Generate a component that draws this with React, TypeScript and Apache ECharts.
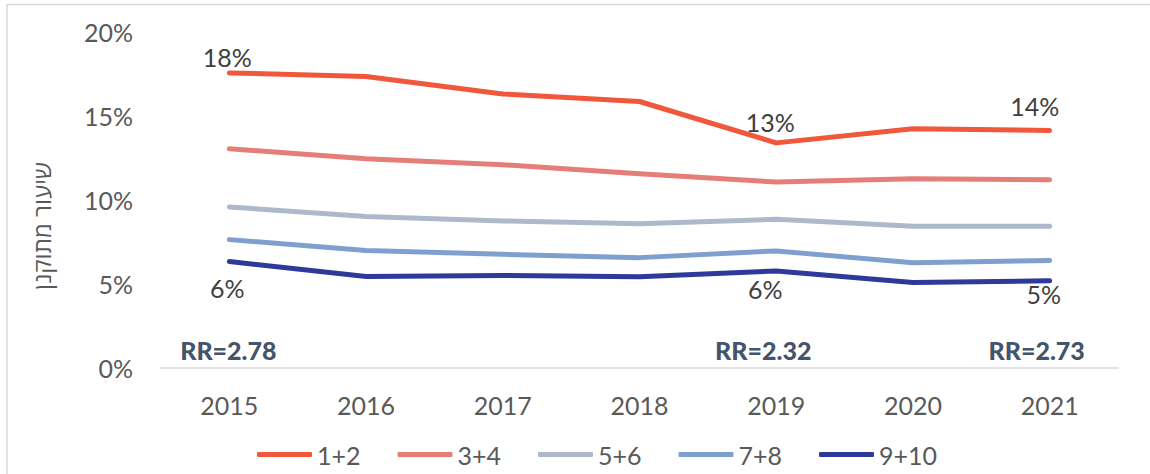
import React, { useEffect, useRef } from "react";
import * as echarts from "echarts";

const years = ["2015", "2016", "2017", "2018", "2019", "2020", "2021"];
const seriesNames = ["1+2", "3+4", "5+6", "7+8", "9+10"];
const s12 = [17.54, 17.32, 16.29, 15.84, 13.38, 14.22, 14.12];
const s34 = [13.03, 12.44, 12.08, 11.55, 11.05, 11.25, 11.19];
const s56 = [9.57, 9.01, 8.74, 8.58, 8.84, 8.42, 8.42];
const s78 = [7.63, 6.98, 6.76, 6.56, 6.96, 6.25, 6.39];
const s910 = [6.33, 5.44, 5.5, 5.42, 5.77, 5.08, 5.18];
const yTicks = [0, 5, 10, 15, 20];
const rrYears = ["2015", "2019", "2021"];
const rrTexts = ["RR=2.78", "RR=2.32", "RR=2.73"];
const rrLevel = 1.07;
const labelledIdx = [0, 4, 6];
const yTitle = "שיעור מתוקנן";

const colors = ["#F0573B", "#E57E79", "#ADB9CA", "#7F9FCF", "#2D3A9A"];
const FONT = "Lato, 'Open Sans', sans-serif";

export default function App() {
  const ref = useRef<HTMLDivElement>(null);
  useEffect(() => {
    if (!ref.current) return;
    const chart = echarts.init(ref.current, undefined, { renderer: "svg" });
    const all = [s12, s34, s56, s78, s910];
    const topOffsets: Record<number, number[]> = { 0: [-2, -1], 4: [-6, -6], 6: [-15, -9] };
    const botOffsets: Record<number, number[]> = { 0: [-2, 12], 4: [-11, 3], 6: [-6, -2] };
    const lineSeries = all.map((vals, si) => ({
      name: seriesNames[si],
      type: "line",
      data: vals.map((v, i) => {
        const isTop = si === 0;
        const isBot = si === 4;
        if ((isTop || isBot) && labelledIdx.includes(i)) {
          return {
            value: v,
            label: {
              show: true,
              position: isTop ? "top" : "bottom",
              distance: 2,
              offset: isTop ? topOffsets[i] : botOffsets[i],
              formatter: (p: any) => Math.round(p.value) + "%",
              color: "#404040",
              fontSize: 25,
              fontFamily: FONT,
            },
          };
        }
        return v;
      }),
      symbol: "circle",
      symbolSize: 1,
      showSymbol: true,
      itemStyle: { color: colors[si] },
      lineStyle: { color: colors[si], width: 5, cap: "round", join: "round" },
      z: 10 - si,
    }));
    const rrSeries = {
      name: "RR",
      type: "scatter",
      data: rrYears.map((y) => [y, rrLevel]),
      symbolSize: 1,
      itemStyle: { color: "transparent", opacity: 1 },
      label: {
        show: true,
        position: "inside",
        formatter: (p: any) => rrTexts[p.dataIndex],
        color: "#44546A",
        opacity: 1,
        fontSize: 25,
        fontWeight: 900,
        fontFamily: FONT,
      },
      labelLayout: (params: any) => {
        const dx = [-1, -13, -13][params.dataIndex];
        return { dx };
      },
    };
    chart.setOption({
      animation: false,
      backgroundColor: "#ffffff",
      grid: { left: 161, right: 32, top: 31.5, bottom: 106, containLabel: false },
      xAxis: {
        type: "category",
        data: years,
        boundaryGap: true,
        axisLine: { lineStyle: { color: "#D9D9D9", width: 1.5 } },
        axisTick: { show: false },
        axisLabel: { color: "#595959", fontSize: 25, fontFamily: FONT, margin: 24 },
      },
      yAxis: {
        type: "value",
        min: yTicks[0],
        max: yTicks[yTicks.length - 1],
        interval: 5,
        axisLine: { show: false },
        axisTick: { show: false },
        splitLine: { show: false },
        axisLabel: { color: "#595959", fontSize: 25, fontFamily: FONT, margin: 28, formatter: "{value}%" },
      },
      legend: {
        data: seriesNames,
        left: 252,
        top: 437,
        icon: "roundRect",
        itemWidth: 55,
        itemHeight: 5,
        itemGap: 37,
        textStyle: { color: "#595959", fontSize: 25, fontFamily: FONT },
      },
      graphic: [
        {
          type: "rect",
          shape: { x: 7, y: 4.5, width: 1160, height: 500 },
          style: { fill: "none", stroke: "#D9D9D9", lineWidth: 1.5 },
          silent: true,
        },
        {
          type: "text",
          x: 41,
          y: 226,
          rotation: Math.PI / 2,
          style: {
            text: yTitle,
            fill: "#595959",
            fontSize: 24,
            fontFamily: "'Open Sans', 'DejaVu Sans', sans-serif",
            align: "center",
            verticalAlign: "middle",
          },
        },
      ],
      series: [...lineSeries, rrSeries],
    });
    return () => chart.dispose();
  }, []);
  return (
    <div
      ref={ref}
      style={{ position: "absolute", left: 0, top: 0, width: 1150, height: 474 }}
    />
  );
}
